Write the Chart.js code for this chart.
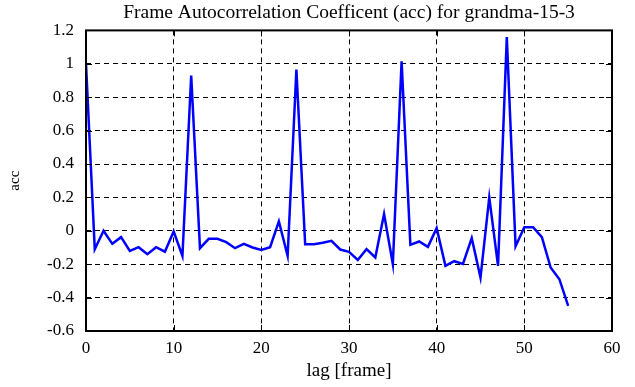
<!DOCTYPE html>
<html>
<head>
<meta charset="utf-8">
<script src="https://cdn.jsdelivr.net/npm/chart.js@4"></script>
<style>
    html, body { margin: 0; padding: 0; background: #fff; }
    #accChart { display: block; }
</style>
</head>
<body>
<canvas id="accChart" width="635" height="387"></canvas>
<script>
    // lag in frames, autocorrelation
    var lags = [0, 1, 2, 3, 4, 5, 6, 7, 8, 9,
        10, 11, 12, 13, 14, 15, 16, 17, 18, 19,
        20, 21, 22, 23, 24, 25, 26, 27, 28, 29,
        30, 31, 32, 33, 34, 35, 36, 37, 38, 39,
        40, 41, 42, 43, 44, 45, 46, 47, 48, 49,
        50, 51, 52, 53, 54, 55];
    var acc = [1.0, -0.11, 0.0, -0.078, -0.038, -0.12, -0.098, -0.14, -0.098, -0.125,
        -0.004, -0.15, 0.93, -0.104, -0.048, -0.048, -0.068, -0.104, -0.078, -0.1,
        -0.115, -0.098, 0.056, -0.15, 0.965, -0.08, -0.08, -0.072, -0.06, -0.112,
        -0.126, -0.175, -0.11, -0.16, 0.1, -0.2, 1.015, -0.084, -0.064, -0.096,
        0.016, -0.21, -0.182, -0.198, -0.044, -0.28, 0.2, -0.21, 1.16, -0.092,
        0.022, 0.022, -0.038, -0.22, -0.29, -0.45];
    var xTicks = [0, 10, 20, 30, 40, 50, 60];
    var yTicks = [-0.6, -0.4, -0.2, 0, 0.2, 0.4, 0.6, 0.8, 1, 1.2];

    var points = lags.map(function (l, i) {
        return { x: l, y: acc[i] };
    });

    Chart.defaults.font.family = '"Liberation Serif", "DejaVu Serif", serif';
    Chart.defaults.font.size = 17;
    Chart.defaults.color = '#000';

    function gridColor(ctx) {
        var v = ctx.tick ? ctx.tick.value : null;
        if (v === null) return 'transparent';
        var s = ctx.scale;
        if (Math.abs(v - s.min) < 1e-9 || Math.abs(v - s.max) < 1e-9) return 'transparent';
        return '#000';
    }

    // solid frame with inward ticks on all four sides, like gnuplot
    var frameTicks = {
        id: 'frameTicks',
        afterLayout: function (chart) {
            // centre the title over the plot area rather than the canvas
            if (chart.titleBlock) {
                chart.titleBlock.left = chart.chartArea.left;
                chart.titleBlock.right = chart.chartArea.right;
            }
        },
        afterDatasetsDraw: function (chart) {
            var c = chart.ctx, a = chart.chartArea;
            var xs = chart.scales.x, ys = chart.scales.y;
            var len = 6;
            c.save();
            c.strokeStyle = '#000';
            c.lineWidth = 1;
            c.setLineDash([]);
            c.beginPath();
            xTicks.forEach(function (t) {
                if (t === xs.min || t === xs.max) return;
                var px = Math.round(xs.getPixelForValue(t)) + 0.5;
                c.moveTo(px, a.bottom); c.lineTo(px, a.bottom - len);
                c.moveTo(px, a.top); c.lineTo(px, a.top + len);
            });
            yTicks.forEach(function (t) {
                if (t === ys.min || t === ys.max) return;
                var py = Math.round(ys.getPixelForValue(t)) + 0.5;
                c.moveTo(a.left, py); c.lineTo(a.left + len, py);
                c.moveTo(a.right, py); c.lineTo(a.right - len, py);
            });
            c.stroke();
            c.lineWidth = 2;
            c.strokeRect(a.left, a.top, a.right - a.left, a.bottom - a.top);
            c.restore();
        }
    };

    new Chart(document.getElementById('accChart').getContext('2d'), {
        type: 'line',
        data: {
            datasets: [
                {
                    label: 'acc',
                    data: points,
                    borderColor: '#0000ff',
                    borderWidth: 2.5,
                    pointRadius: 0,
                    tension: 0,
                    fill: false
                }
            ]
        },
        options: {
            responsive: false,
            animation: false,
            layout: {
                padding: { left: 0, right: 23, top: 0, bottom: 0 }
            },
            plugins: {
                legend: { display: false },
                tooltip: { enabled: false },
                title: {
                    display: true,
                    text: 'Frame Autocorrelation Coefficent (acc) for grandma-15-3',
                    font: { size: 19.5, weight: 'normal' },
                    padding: { top: 1, bottom: 6 }
                }
            },
            scales: {
                x: {
                    type: 'linear',
                    min: 0,
                    max: 60,
                    afterBuildTicks: function (axis) {
                        axis.ticks = xTicks.map(function (v) { return { value: v }; });
                    },
                    afterFit: function (axis) { axis.height = 56; },
                    ticks: { padding: 7, maxRotation: 0 },
                    grid: {
                        color: gridColor,
                        drawTicks: false,
                        lineWidth: 1
                    },
                    border: { display: false, dash: [5, 4] },
                    title: {
                        display: true,
                        text: 'lag [frame]',
                        font: { size: 19 },
                        padding: { top: 0, bottom: 5 }
                    }
                },
                y: {
                    type: 'linear',
                    min: -0.6,
                    max: 1.2,
                    afterBuildTicks: function (axis) {
                        axis.ticks = yTicks.map(function (v) { return { value: v }; });
                    },
                    afterFit: function (axis) { axis.width = 86; },
                    ticks: {
                        padding: 12,
                        callback: function (v) { return String(Math.round(v * 10) / 10); }
                    },
                    grid: {
                        color: gridColor,
                        drawTicks: false,
                        lineWidth: 1
                    },
                    border: { display: false, dash: [5, 4] },
                    title: {
                        display: true,
                        text: 'acc',
                        font: { size: 15 },
                        padding: { top: 6, bottom: 0 }
                    }
                }
            }
        },
        plugins: [frameTicks]
    });
</script>
</body>
</html>
